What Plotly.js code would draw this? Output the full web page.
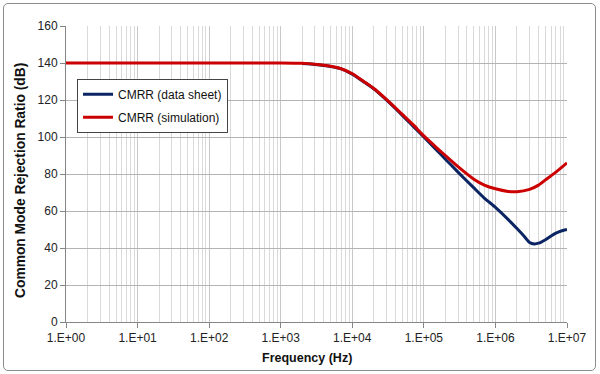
<!DOCTYPE html>
<html><head><meta charset="utf-8">
<script src="https://cdn.plot.ly/plotly-3.0.1.min.js"></script>
<style>
html,body{margin:0;padding:0;background:#fff;}
#wrap{position:relative;width:600px;height:374px;}
#chart{width:600px;height:374px;}
#frame{position:absolute;left:3px;top:3px;width:591px;height:366px;border:1px solid #8c8c8c;border-radius:5px;pointer-events:none;}
</style></head>
<body>
<div id="wrap"><div id="chart"></div><div id="frame"></div></div>
<script>
// Data sheet CMRR
const freqDatasheet = [2e3,3e3,5e3,7e3,1e4,1.5e4,2e4,3e4,5e4,7e4,1e5,1.5e5,2e5,3e5,5e5,7e5,1e6,1.5e6,2e6,2.5e6,3e6,3.5e6,4e6,5e6,6e6,7e6,8.5e6,1e7];
const cmrrDatasheet = [139.7,139.2,138.1,136.8,134.0,129.4,126.0,120.0,111.7,106.0,100.0,93.0,88.0,81.0,72.5,67.0,62.0,55.5,50.5,46.5,43.0,42.2,42.6,44.5,46.5,48.0,49.3,50.0];
// Simulation CMRR
const freqSim = [1,10,100,1e3,2e3,3e3,5e3,7e3,1e4,1.5e4,2e4,3e4,5e4,7e4,1e5,1.5e5,2e5,3e5,5e5,7e5,1e6,1.5e6,2e6,3e6,4e6,5e6,7e6,1e7];
const cmrrSim = [140,140,140,140,139.8,139.3,138.2,136.9,134.2,129.6,126.2,120.3,112.2,106.8,100.6,94.3,90.0,84.0,77.2,74.0,72.0,70.6,70.4,71.7,74.0,76.8,81.0,86.0];
const xTickVals = [1,10,100,1e3,1e4,1e5,1e6,1e7];
const xTickText = ['1.E+00','1.E+01','1.E+02','1.E+03','1.E+04','1.E+05','1.E+06','1.E+07'];
const xTitle = 'Frequency (Hz)';
const yTitle = 'Common Mode Rejection Ratio (dB)';

const traces = [
  {x: freqDatasheet, y: cmrrDatasheet, name: 'CMRR (data sheet)', mode: 'lines', legendgroup: 'a',
   line: {color: '#0b2463', width: 3, shape: 'spline', smoothing: 0.6}},
  {x: freqSim, y: cmrrSim, name: 'CMRR (simulation)', mode: 'lines', legendgroup: 'b',
   line: {color: '#cc0000', width: 3, shape: 'spline', smoothing: 0.6}}
];
const fam = 'Liberation Sans, Arial, sans-serif';
const layout = {
  width: 600, height: 374,
  margin: {l: 66, r: 33, t: 26, b: 52},
  paper_bgcolor: '#fff', plot_bgcolor: '#fff',
  font: {family: fam, size: 12, color: '#222'},
  showlegend: true,
  legend: {x: 0.022, y: 0.822, xanchor: 'left', yanchor: 'top', bgcolor: '#fff',
    bordercolor: '#444', borderwidth: 1, font: {family: fam, size: 12, color: '#111'},
    traceorder: 'grouped', tracegroupgap: 4, itemwidth: 30},
  xaxis: {type: 'log', range: [0, 7], tickmode: 'array', tickvals: xTickVals, ticktext: xTickText,
    showgrid: true, gridcolor: '#c8c8c8', gridwidth: 1,
    minor: {dtick: 'D1', showgrid: true, gridcolor: '#d9d9d9', gridwidth: 1, ticks: ''},
    showline: true, linecolor: '#868686', linewidth: 1,
    ticks: 'outside', ticklen: 5, tickcolor: '#868686',
    tickfont: {family: fam, size: 12, color: '#222'},
    zeroline: false, fixedrange: true},
  yaxis: {range: [0, 160], dtick: 20, tick0: 0,
    showgrid: true, gridcolor: '#b4b4b4', gridwidth: 1,
    showline: true, linecolor: '#868686', linewidth: 1,
    ticks: 'outside', ticklen: 5, tickcolor: '#868686',
    tickfont: {family: fam, size: 12, color: '#222'},
    zeroline: false, fixedrange: true},
  annotations: [
    {text: '<b>' + xTitle + '</b>', xref: 'paper', yref: 'paper', x: 0.5, y: 0, xanchor: 'center', yanchor: 'middle',
     xshift: -10, yshift: -36, showarrow: false, font: {family: fam, size: 12.5, color: '#111'}},
    {text: '<b>' + yTitle + '</b>', xref: 'paper', yref: 'paper', x: 0, y: 0.5, xanchor: 'center', yanchor: 'middle',
     xshift: -46, yshift: -7, textangle: -90, showarrow: false, font: {family: fam, size: 13.8, color: '#111'}}
  ]
};
Plotly.newPlot('chart', traces, layout, {staticPlot: true, displayModeBar: false});
</script>
</body></html>
